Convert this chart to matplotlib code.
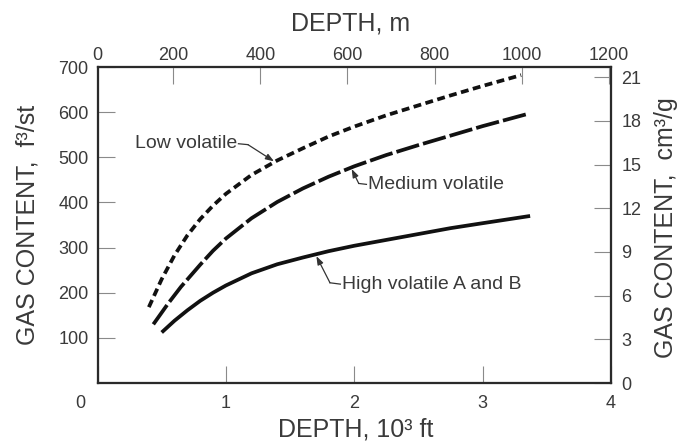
import matplotlib
matplotlib.use("Agg")
import matplotlib.pyplot as plt
import matplotlib.transforms as mtransforms

# ---- data (depth in 10^3 ft, gas content in ft^3/st) ----
low_depth = [0.40, 0.50, 0.60, 0.70, 0.80, 0.90, 1.00, 1.20, 1.40, 1.60, 1.80, 2.00, 2.25, 2.50, 2.75, 3.00, 3.30]
low_gas = [168, 230, 283, 327, 363, 393, 419, 461, 493, 520, 546, 568, 593, 615, 637, 658, 682]

med_depth = [0.435, 0.55, 0.65, 0.80, 0.90, 1.00, 1.20, 1.40, 1.60, 1.80, 2.00, 2.25, 2.50, 2.75, 3.00, 3.35]
med_gas = [130, 176, 213, 262, 293, 320, 365, 401, 431, 457, 480, 505, 527, 548, 569, 596]

high_depth = [0.50, 0.60, 0.70, 0.80, 0.90, 1.00, 1.20, 1.40, 1.60, 1.80, 2.00, 2.25, 2.50, 2.75, 3.00, 3.37]
high_gas = [112, 138, 161, 182, 200, 216, 243, 263, 278, 292, 304, 317, 330, 343, 354, 370]

series_labels = ["Low volatile", "Medium volatile", "High volatile A and B"]

x_ticks_ft = [0, 1, 2, 3, 4]
y_ticks_left = [100, 200, 300, 400, 500, 600, 700]
y_ticks_right = [0, 3, 6, 9, 12, 15, 18, 21]
x_ticks_m = [200, 400, 600, 800, 1000, 1200]

# label anchor points (text pos, elbow, arrow tip) in data units
low_ann = [(1.086, 530), (1.172, 528), (1.375, 491)]
med_ann = [(2.107, 440), (2.035, 442), (1.98, 474)]
high_ann = [(1.904, 219), (1.811, 222), (1.705, 281)]

TEXT = "#3a3a3a"
SPINE = "#2a2a2a"
TICK = "#8a8a8a"
LINE = "#111111"
FONT = "Liberation Sans"

plt.rcParams["font.family"] = [FONT, "DejaVu Sans"]

fig = plt.figure(figsize=(6.8, 4.41), dpi=100)
L, R, B, T = 97.5 / 680, 611 / 680, 1 - 383 / 441, 1 - 67 / 441
ax = fig.add_axes([L, B, R - L, T - B])
ax_r = ax.twinx()
ax_t = ax.twiny()

ax.set_xlim(0, 4)
ax.set_ylim(0, 700)
ax_r.set_ylim(0, 21.7)
ax_t.set_xlim(26, 1205)

lw = 2.7
ax.plot(low_depth, low_gas, color=LINE, lw=lw, dashes=(2.1, 1.2), dash_capstyle="butt")
ax.plot(med_depth, med_gas, color=LINE, lw=lw, dashes=(6.3, 1.1), dash_capstyle="butt")
ax.plot(high_depth, high_gas, color=LINE, lw=lw, solid_capstyle="butt")

for a in (ax, ax_r, ax_t):
    for s in a.spines.values():
        s.set_color(SPINE)
        s.set_linewidth(1.5)

tick_kw = dict(direction="in", length=12.5, width=0.8, color=TICK, labelcolor=TEXT, labelsize=13)
ax.set_xticks(x_ticks_ft)
ax.set_xticklabels([str(v) for v in x_ticks_ft])
ax.tick_params(axis="x", pad=9, **tick_kw)
ax.set_yticks(y_ticks_left)
ax.set_yticklabels([str(v) for v in y_ticks_left])
ax.tick_params(axis="y", pad=6.5, **tick_kw)
ax_r.set_yticks(y_ticks_right)
ax_r.set_yticklabels([str(v) for v in y_ticks_right])
ax_r.tick_params(axis="y", pad=7.5, **tick_kw)
ax_t.set_xticks(x_ticks_m)
ax_t.set_xticklabels([str(v) for v in x_ticks_m])
ax_t.tick_params(axis="x", pad=2.5, **tick_kw)

# shift bottom "0" label left as in the original
off = mtransforms.ScaledTranslation(-17.5 / 100, 0, fig.dpi_scale_trans)
lab0 = ax.get_xticklabels()[0]
lab0.set_transform(lab0.get_transform() + off)

# top "0" label at left corner
ax_t.annotate("0", xy=(0, 1), xycoords="axes fraction", xytext=(0, 2.5),
              textcoords="offset points", ha="center", va="bottom",
              fontsize=13, color=TEXT)

# axis titles
fig.text(351 / 680, 1 - 23 / 441, "DEPTH, m", ha="center", va="center", fontsize=18, color=TEXT)
fig.text(356 / 680, 1 - 430 / 441, "DEPTH, 10\u00b3 ft", ha="center", va="center", fontsize=18, color=TEXT)
fig.text(28 / 680, 1 - 225 / 441, "GAS CONTENT,  f\u00b3/st", ha="center", va="center",
         rotation=90, fontsize=18, color=TEXT)
fig.text(666 / 680, 1 - 228 / 441, "GAS CONTENT,  cm\u00b3/g", ha="center", va="center",
         rotation=90, fontsize=18, color=TEXT)

# curve labels with leaders
arrow_kw = dict(arrowstyle="-|>,head_length=0.5,head_width=0.18", color="#333333", lw=0.9,
                shrinkA=0, shrinkB=0)
for ann, text, ha in ((low_ann, series_labels[0], "right"),
                      (med_ann, series_labels[1], "left"),
                      (high_ann, series_labels[2], "left")):
    (tx, ty), (ex, ey), (px, py) = ann
    ax.text(tx, ty, text, ha=ha, va="center", fontsize=14, color=TEXT)
    sx = tx + (0.012 if ha == "right" else -0.012)
    ax.plot([sx, ex], [ty, ey], color="#333333", lw=0.9)
    ax.annotate("", xy=(px, py), xytext=(ex, ey), arrowprops=arrow_kw)

fig.savefig("out.png", dpi=100)
